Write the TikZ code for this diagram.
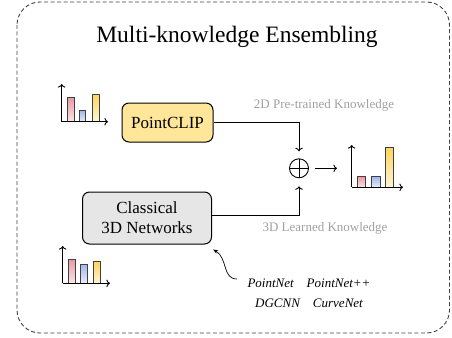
\documentclass[tikz,border=0pt]{standalone}
\usepackage{fontspec}
\setmainfont{Liberation Serif}
\usepackage{tikz}
\usetikzlibrary{arrows.meta}
\definecolor{clipyellow}{HTML}{FFE699}
\definecolor{boxgray}{HTML}{E6E6E6}
\definecolor{barred}{HTML}{E99AA4}
\definecolor{barblue}{HTML}{A3B6EA}
\definecolor{baryellow}{HTML}{FFD45C}
\definecolor{labelgray}{HTML}{A0A0A0}

\begin{document}
\begin{tikzpicture}[x=1pt,y=-1pt,
  model/.style={draw, line width=1pt, rounded corners=7pt, align=center, font=\fontsize{17}{20}\selectfont},
  bar/.style={draw=black!75, line width=0.6pt},
  axis/.style={->, line width=0.9pt},
  flow/.style={->, line width=0.9pt},
  know/.style={text=labelgray, font=\fontsize{13}{15}\selectfont}]
\useasboundingbox (0,0) rectangle (452,337);
% frame and title
\draw[color=black!75, line width=0.9pt, dash pattern=on 4pt off 2.5pt, rounded corners=23pt] (17,2) rectangle (449.5,333);
\node[anchor=base, font=\fontsize{23.5}{28}\selectfont] (title) at (237,43) {Multi-knowledge Ensembling};
% models
\node[model, fill=clipyellow, minimum width=91pt, minimum height=39pt] (clip) at (167.5,122.5) {PointCLIP};
\node[model, fill=boxgray, minimum width=129pt, minimum height=52pt] (classic) at (147,218) {Classical\\3D Networks};
\node[draw, circle, minimum size=19pt, inner sep=0pt, line width=0.9pt,
  path picture={\draw[line width=0.9pt] (path picture bounding box.north) -- (path picture bounding box.south)
    (path picture bounding box.west) -- (path picture bounding box.east);}] (plus) at (299,168.3) {};
\coordinate (outtip) at (337,168.3);
% knowledge flows
\draw[flow, shorten >=7pt] (clip.east) -| (plus.north);
\draw[flow, shorten >=8pt] ([yshift=3pt]classic.east) -| (plus.south);
\draw[flow, shorten <=6pt] (plus.east) -- (outtip);
\node[know] (k2d) at (324,105) {2D Pre-trained Knowledge};
\node[know] (k3d) at (325,228) {3D Learned Knowledge};
% classical networks
\node[font=\itshape\fontsize{13}{20}\selectfont, align=center] (nets) at (309,293) {PointNet\quad PointNet++\\DGCNN\quad CurveNet};
\coordinate (curl) at (237,279);
\draw[-{Stealth[length=5pt]}, line width=0.7pt] (curl) .. controls (222,279) and (228,258) .. ([xshift=1pt,yshift=-5pt]classic.south east);
% histogram of PointCLIP
\shade[bar, top color=barred, bottom color=barred!25] (67.3,121.7) rectangle (74.3,97.7);
\shade[bar, top color=barblue, bottom color=barblue!25] (79.3,121.7) rectangle (85.7,110.3);
\shade[bar, top color=baryellow, bottom color=baryellow!25] (92.7,121.7) rectangle (99.3,94.3);
\draw[axis] (61.7,121.7) -- (61.7,84);
\draw[axis] (61.7,121.7) -- (108,121.7);
% histogram of classical networks
\shade[bar, top color=barred, bottom color=barred!25] (68.3,283.3) rectangle (75.3,259.3);
\shade[bar, top color=barblue, bottom color=barblue!25] (80.3,283.3) rectangle (87.3,264.3);
\shade[bar, top color=baryellow, bottom color=baryellow!25] (93.3,283.3) rectangle (100.3,261.7);
\draw[axis] (62.7,283.3) -- (62.7,246);
\draw[axis] (62.7,283.3) -- (110,283.3);
% ensembled histogram
\shade[bar, top color=barred, bottom color=barred!25] (357.3,187.3) rectangle (365.7,176.7);
\shade[bar, top color=barblue, bottom color=barblue!25] (371.7,187.3) rectangle (380,176.7);
\shade[bar, top color=baryellow, bottom color=baryellow!25] (385.7,187.3) rectangle (393.3,147.7);
\draw[axis] (351.7,187.3) -- (351.7,145);
\draw[axis] (351.7,187.3) -- (403,187.3);
\end{tikzpicture}
\end{document}
